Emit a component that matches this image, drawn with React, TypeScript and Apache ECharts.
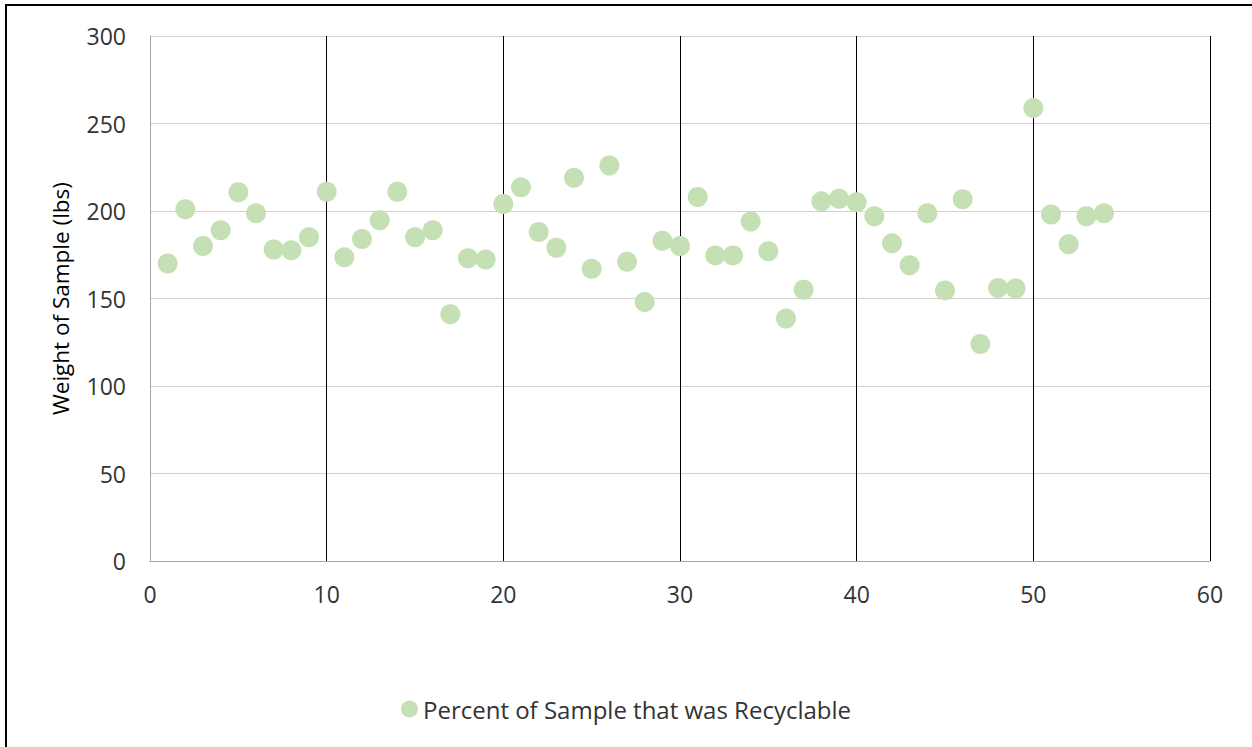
import React, { useEffect, useRef } from "react";
import * as echarts from "echarts";

const sampleIndex: number[] = Array.from({ length: 54 }, (_, i) => i + 1);
const weights: number[] = [
  170, 201, 180, 189, 210.7, 198.7, 178, 177.5, 185, 211,
  173.5, 184, 194.7, 211, 185, 189, 141, 173, 172.3, 204,
  213.5, 188, 179, 219, 167, 226, 171, 148, 183, 180,
  208, 174.6, 174.6, 194, 177, 138.5, 155, 205.5, 207, 205,
  197, 181.5, 169, 198.7, 154.6, 206.7, 124, 156, 155.7, 258.8,
  198, 181, 197, 198.7,
];
const seriesName = "Percent of Sample that was Recyclable";
const yAxisName = "Weight of Sample (lbs)";

export default function App() {
  const ref = useRef<HTMLDivElement>(null);
  useEffect(() => {
    document.body.style.margin = "0";
    const chart = echarts.init(ref.current!, null, { renderer: "svg" });
    const font = "Open Sans";
    chart.setOption({
      animation: false,
      backgroundColor: "#ffffff",
      textStyle: { fontFamily: font },
      grid: { left: 150, top: 36, right: 42, bottom: 186 },
      legend: {
        data: [seriesName],
        top: 692,
        left: "center",
        icon: "circle",
        itemWidth: 17,
        itemHeight: 17,
        itemGap: 5,
        textStyle: { fontFamily: font, fontSize: 24, color: "#333333" },
      },
      graphic: [
        {
          type: "rect",
          shape: { x: 6, y: 5, width: 1300, height: 800 },
          style: { fill: "none", stroke: "#000", lineWidth: 2 },
          silent: true,
        },
      ],
      xAxis: {
        type: "value",
        min: 0,
        max: 60,
        interval: 10,
        axisLine: { show: true, lineStyle: { color: "#a6a6a6", width: 1 } },
        axisTick: { show: false },
        axisLabel: { fontFamily: font, fontSize: 23, color: "#333333", margin: 21 },
        splitLine: {
          show: true,
          showMinLine: false,
          lineStyle: { color: "#000000", width: 1 },
        },
      },
      yAxis: {
        type: "value",
        min: 0,
        max: 300,
        interval: 50,
        name: yAxisName,
        nameLocation: "middle",
        nameGap: 78,
        nameTextStyle: { fontFamily: font, fontSize: 22.5, color: "#000000" },
        axisLine: { show: true, lineStyle: { color: "#a6a6a6", width: 1 } },
        axisTick: { show: false },
        axisLabel: { fontFamily: font, fontSize: 23, color: "#333333", margin: 24 },
        splitLine: { show: true, lineStyle: { color: "#d0d0d0", width: 1 } },
      },
      series: [
        {
          name: seriesName,
          type: "scatter",
          symbol: "circle",
          symbolSize: 20,
          itemStyle: { color: "#c5e0b4", opacity: 1 },
          data: sampleIndex.map((x, i) => [x, weights[i]]),
        },
      ],
    });
    return () => chart.dispose();
  }, []);
  return <div ref={ref} style={{ width: 1252, height: 747 }} />;
}
